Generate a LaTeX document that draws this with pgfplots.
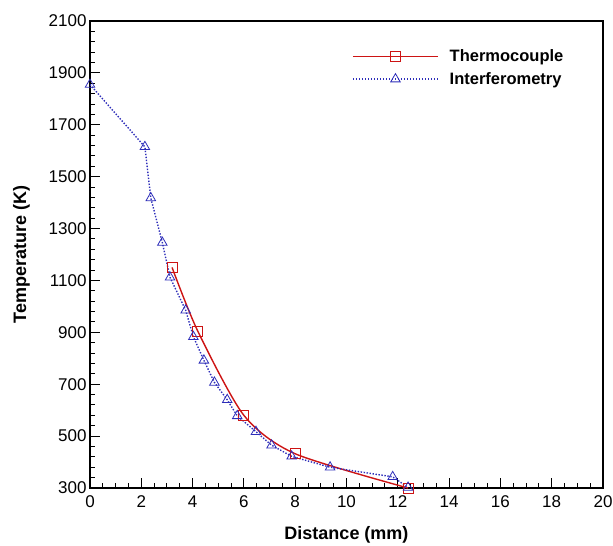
\documentclass[border=0pt]{standalone}
\usepackage{fontspec}
\setmainfont{Liberation Sans}
\usepackage{pgfplots}
\pgfplotsset{compat=1.18}

\definecolor{tcred}{RGB}{205,20,20}
\definecolor{ifblue}{RGB}{45,45,185}

\begin{document}
\begin{tikzpicture}
\begin{axis}[
    scale only axis,
    width=513pt, height=467pt,
    xmin=0, xmax=20, ymin=300, ymax=2100,
    xtick={0,2,...,20}, ytick={300,500,...,2100},
    minor x tick num=3, minor y tick num=4,
    tick align=inside,
    xtick pos=bottom, ytick pos=left,
    major tick length=10pt, minor tick length=5pt,
    axis line style={line width=1.8pt},
    every tick/.style={black, line width=1pt},
    /pgf/number format/assume math mode=true,
    /pgf/number format/set thousands separator={},
    tick label style={font=\fontsize{17}{17}\selectfont},
    xticklabel style={yshift=-4pt},
    xlabel={\textbf{Distance (mm)}},
    ylabel={\textbf{Temperature (K)}},
    label style={font=\fontsize{18}{18}\selectfont},
    xlabel style={yshift=-12pt},
    ylabel style={yshift=12pt},
    legend style={draw=none, fill=none, at={(0.505,0.947)}, anchor=north west,
        font=\bfseries\fontsize{16.5}{20}\selectfont, row sep=5pt,
        /tikz/every odd column/.append style={column sep=9pt}},
    legend cell align=left,
    legend image code/.code={
        \draw[mark repeat=2, mark phase=2, #1] plot coordinates {(0pt,0pt) (42.5pt,0pt) (85pt,0pt)};
    },
]
\addplot[tcred, line width=1.4pt, smooth, tension=0.45,
    mark=square, mark size=5pt, mark options={solid, line width=0.9pt}]
coordinates {
    (3.2,1150) (4.2,905) (6.0,580) (8.0,432) (12.4,300)
};
\addlegendentry{Thermocouple}
\addplot[ifblue, line width=1.4pt, dash pattern=on 1.4pt off 1.6pt,
    mark=triangle, mark size=5.5pt, mark options={solid, line width=0.8pt}]
coordinates {
    (0,1855) (2.14,1615) (2.37,1418) (2.82,1246) (3.12,1112)
    (3.73,985) (4.03,883) (4.44,792) (4.85,707) (5.35,640)
    (5.74,578) (6.47,517) (7.08,465) (7.86,422) (9.36,380)
    (11.8,343) (12.4,302)
};
\addlegendentry{Interferometry}
\end{axis}
\pgfresetboundingbox
\path (current axis.south west) ++(-90pt,-58pt) coordinate (bl);
\path (current axis.north east) ++(10pt,21pt) coordinate (tr);
\path[use as bounding box] (bl) rectangle (tr);
\end{tikzpicture}
\end{document}
